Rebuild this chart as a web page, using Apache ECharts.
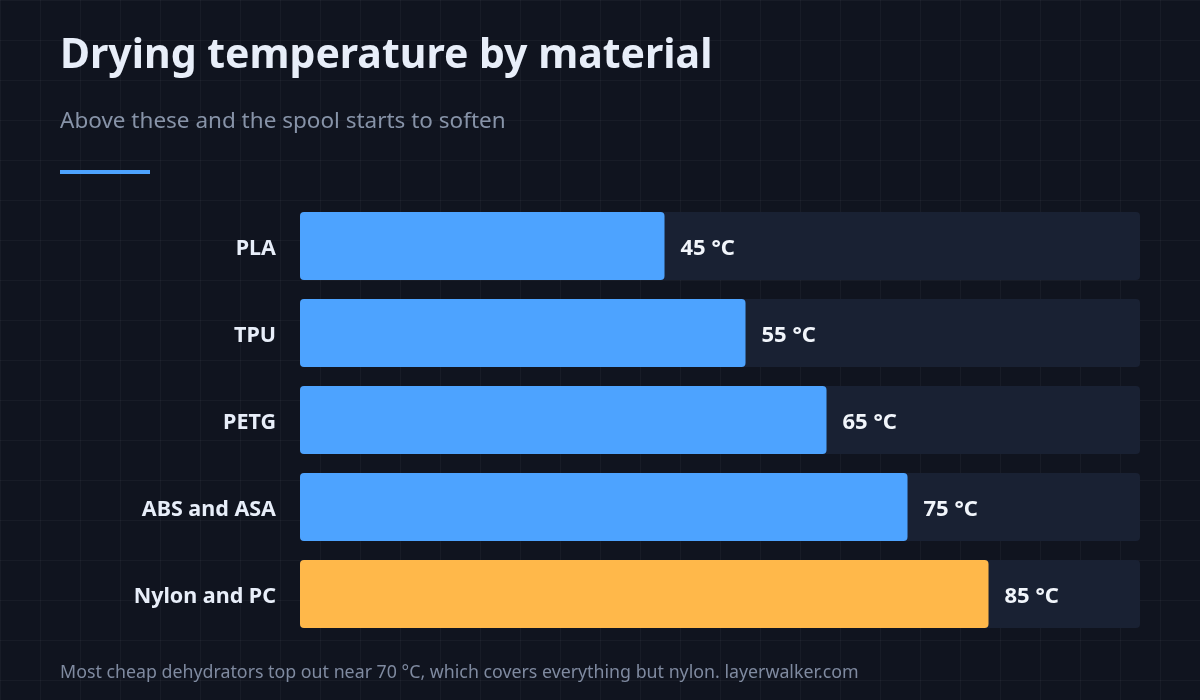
<!doctype html>
<html>
<head>
<meta charset="UTF-8">
<title>Drying temperature by material</title>
<script src="https://cdn.jsdelivr.net/npm/echarts@6/dist/echarts.min.js"></script>
<style>
  html, body { margin: 0; padding: 0; }
  body {
    width: 1200px; height: 700px;
    background-color: #10141f;
    background-image:
      linear-gradient(rgba(255,255,255,0.035) 1px, transparent 1px),
      linear-gradient(90deg, rgba(255,255,255,0.035) 1px, transparent 1px);
    background-size: 40px 40px;
  }
  #main { width: 1200px; height: 700px; }
</style>
</head>
<body>
<div id="main"></div>
<script>
// chart data
var materials = ['PLA', 'TPU', 'PETG', 'ABS and ASA', 'Nylon and PC'];
var temps = [45, 55, 65, 75, 85];
var highlight = 'Nylon and PC';
var axisMax = 103.7;

var font = '"Noto Sans", "Open Sans", sans-serif';

var myChart = echarts.init(document.getElementById('main'));

var option = {
    backgroundColor: 'transparent',
    animation: false,
    title: [
        {
            text: 'Drying temperature by material',
            left: 60, top: 36, padding: 0,
            textStyle: { color: '#e8eef9', fontSize: 41, fontWeight: 'bold', fontFamily: font }
        },
        {
            text: 'Above these and the spool starts to soften',
            left: 60, top: 110, padding: 0,
            textStyle: { color: '#8793a8', fontSize: 22.5, fontWeight: 'normal', fontFamily: font }
        },
        {
            text: 'Most cheap dehydrators top out near 70 \u00b0C, which covers everything but nylon. layerwalker.com',
            left: 60, top: 664, padding: 0,
            textStyle: { color: '#7f8aa0', fontSize: 17.8, fontWeight: 'normal', fontFamily: font }
        }
    ],
    graphic: [
        { type: 'rect', left: 60, top: 170, shape: { width: 90, height: 4 }, style: { fill: '#4da3ff' } }
    ],
    grid: { left: 300, right: 60, top: 202.5, height: 435 },
    xAxis: {
        type: 'value', min: 0, max: axisMax,
        show: false
    },
    yAxis: {
        type: 'category',
        inverse: true,
        data: materials,
        axisLine: { show: false },
        axisTick: { show: false },
        splitLine: { show: false },
        axisLabel: {
            margin: 24,
            formatter: '{n|{value}}',
            rich: {
                n: { padding: [6, 0, 0, 0], color: '#e8eef9', fontSize: 21.5, fontWeight: 'bold', fontFamily: font }
            }
        }
    },
    series: [
        {
            type: 'bar',
            barWidth: 68,
            showBackground: true,
            backgroundStyle: { color: '#192133', borderRadius: 4 },
            data: temps.map(function (v, i) {
                return {
                    value: v,
                    itemStyle: { color: materials[i] === highlight ? '#ffb84a' : '#4da3ff' }
                };
            }),
            itemStyle: { borderRadius: 4 },
            label: {
                show: true,
                position: 'right',
                distance: 16,
                offset: [0, 3],
                formatter: '{c} \u00b0C',
                color: '#f1f5fb', fontSize: 22, fontWeight: 'bold', fontFamily: font
            }
        }
    ]
};

myChart.setOption(option);
</script>
</body>
</html>
